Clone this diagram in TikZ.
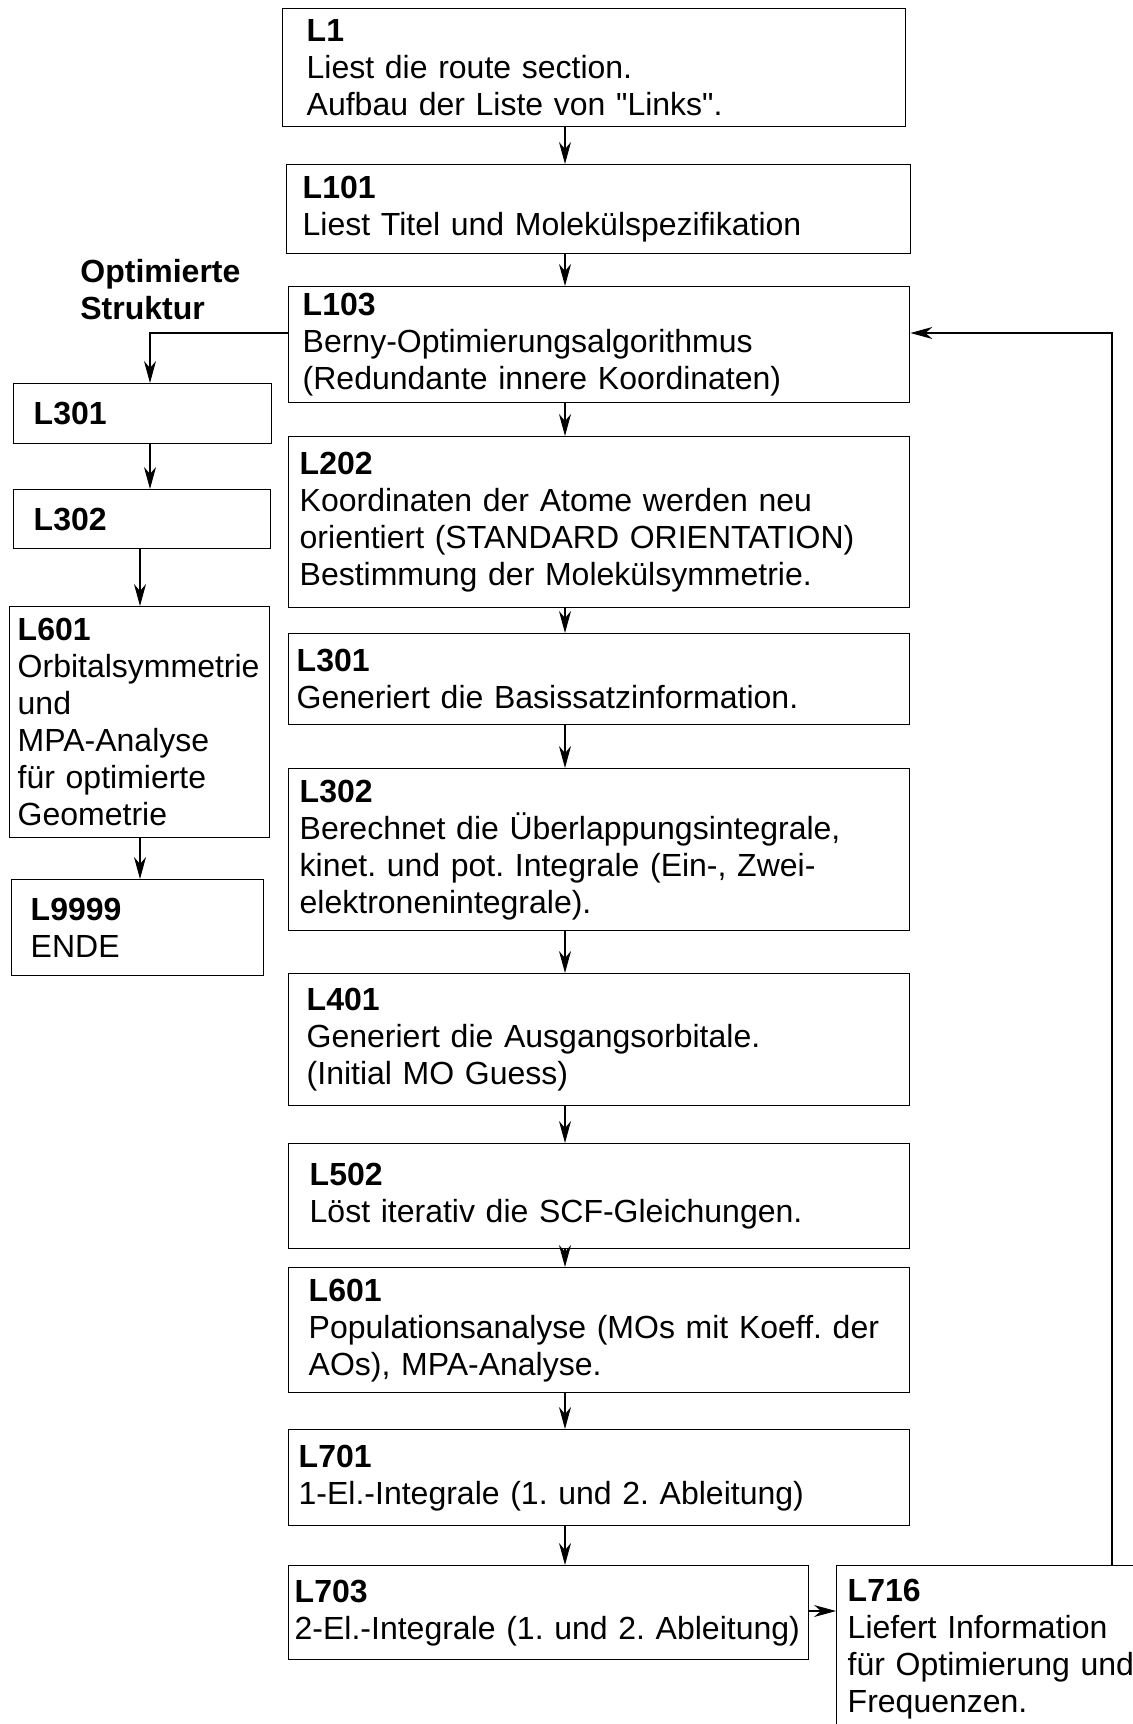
\documentclass[tikz,border=0pt]{standalone}
\usepackage{fontspec}
\setmainfont{Liberation Sans}[Ligatures=TeXOff]
\usetikzlibrary{arrows.meta}
\frenchspacing

\begin{document}
\begin{tikzpicture}[x=0.5pt,y=-0.5pt,
				stage/.style={rectangle,draw,line width=0.7pt,anchor=north west,
									align=left,inner ysep=0pt,
									font=\fontsize{16}{18.5}\selectfont},
				boxdim/.style n args={3}{text width=#1pt,inner xsep=#2pt,minimum height=#3pt},
				flow/.style={line width=0.55pt,-{Stealth[length=11pt,width=6pt,inset=3.5pt]}}]
\clip (0,0) rectangle (1133,1724);

  % main column
	\node[stage,boxdim={287.5}{12}{59}] (l_1) at (282,8)
		{\textbf{L1}\\Liest die route section.\\Aufbau der Liste von "Links".};
	\node[stage,boxdim={296}{8}{44.5}] (l_101) at (286,164)
		{\textbf{L101}\\Liest Titel und Molekülspezifikation};
	\node[stage,boxdim={296.5}{7}{58}] (l_103) at (288,286)
		{\textbf{L103}\\Berny-Optimierungsalgorithmus\\(Redundante innere Koordinaten)};
	\node[stage,boxdim={299.5}{5.5}{85.5}] (l_202) at (288,436)
		{\textbf{L202}\\Koordinaten der Atome werden neu\\orientiert (STANDARD ORIENTATION)\\Bestimmung der Molekülsymmetrie.};
	\node[stage,boxdim={302.5}{4}{45.5}] (l_301) at (288,633)
		{\textbf{L301}\\Generiert die Basissatzinformation.};
	\node[stage,boxdim={299.5}{5.5}{81}] (l_302) at (288,768)
		{\textbf{L302}\\Berechnet die Überlappungsintegrale,\\kinet. und pot. Integrale (Ein-, Zwei-\\elektronenintegrale).};
	\node[stage,boxdim={292.5}{9}{66}] (l_401) at (288,973)
		{\textbf{L401}\\Generiert die Ausgangsorbitale.\\(Initial MO Guess)};
	\node[stage,boxdim={289.5}{10.5}{52.5}] (l_502) at (288,1143)
		{\textbf{L502}\\Löst iterativ die SCF-Gleichungen.};
	\node[stage,boxdim={290.5}{10}{62.5}] (l_601) at (288,1267)
		{\textbf{L601}\\Populationsanalyse (MOs mit Koeff. der\\AOs), MPA-Analyse.};
	\node[stage,boxdim={300.5}{5}{48}] (l_701) at (288,1429)
		{\textbf{L701}\\1-El.-Integrale (1. und 2. Ableitung)};
	\node[stage,boxdim={254}{3}{47}] (l_703) at (288,1565)
		{\textbf{L703}\\\mbox{2-El.-Integrale (1. und 2. Ableitung)}};
	\node[stage,boxdim={169}{5.5}{83}] (l_716) at (836,1565)
		{\textbf{L716}\\Liefert Information\\für Optimierung und\\Frequenzen.};

  % optimized structure branch
	\node[anchor=north west,inner sep=0pt,align=left,
		font=\fontsize{16}{18.5}\selectfont\bfseries] (opt) at (80,259)
		{Optimierte\\Struktur};
	\node[stage,boxdim={109}{10}{30}] (s_301) at (13,383) {\textbf{L301}};
	\node[stage,boxdim={108.5}{10}{29.5}] (s_302) at (13,489) {\textbf{L302}};
	\node[stage,boxdim={122}{4}{115.5}] (s_601) at (9,606)
		{\textbf{L601}\\Orbitalsymmetrie\\und\\MPA-Analyse\\für optimierte\\Geometrie};
	\node[stage,boxdim={107}{9.5}{48}] (s_9999) at (11,879)
		{\textbf{L9999}\\ENDE};

	\coordinate (axis) at (565,0);
	\coordinate (fork) at (150,333);
	\coordinate (drop) at (140,0);
	\coordinate (side) at (0,1611);
	\coordinate (ret) at (1112,333);

  \path[flow] (l_1.south -| axis) edge (l_101.north -| axis)
	(l_101.south -| axis) edge (l_103.north -| axis)
	(l_103.south -| axis) edge (l_202.north -| axis)
	(l_202.south -| axis) edge (l_301.north -| axis)
	(l_301.south -| axis) edge (l_302.north -| axis)
	(l_302.south -| axis) edge (l_401.north -| axis)
	(l_401.south -| axis) edge (l_502.north -| axis)
	(l_502.south -| axis) edge (l_601.north -| axis)
	(l_601.south -| axis) edge (l_701.north -| axis)
	(l_701.south -| axis) edge (l_703.north -| axis)
	(l_703.east |- side) edge (l_716.west |- side)
	(s_301.south -| fork) edge (s_302.north -| fork)
	(s_302.south -| drop) edge (s_601.north -| drop)
	(s_601.south -| drop) edge (s_9999.north -| drop);
  \draw[flow] (l_103.west |- fork) -| (s_301.north -| fork);
  \draw[flow] (l_716.north -| ret) |- (l_103.east |- ret);
\end{tikzpicture}
\end{document}
